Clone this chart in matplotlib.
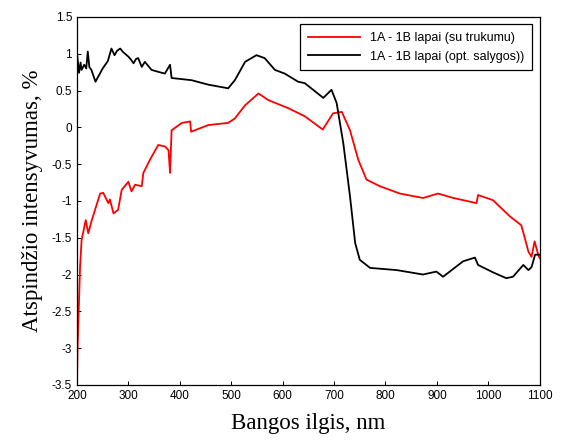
import matplotlib
matplotlib.use("Agg")
import matplotlib.pyplot as plt
from matplotlib.ticker import FuncFormatter

# Bangos ilgis (nm) ir atspindžio skirtumai, nuskaityti kreivėms
wl_red = [200, 201, 206, 209, 217, 222, 228, 245, 251, 261, 264, 271, 280, 287, 300, 306,
          313, 326, 329, 342, 358, 371, 378, 381, 384, 400, 404, 420, 422, 455, 494, 507,
          527, 553, 572, 611, 643, 678, 698, 715, 731, 747, 763, 789, 828, 873, 902, 932,
          977, 980, 1009, 1042, 1064, 1070, 1078, 1084, 1090, 1097, 1100]
val_red = [-3.48, -3.02, -1.89, -1.53, -1.26, -1.44, -1.28, -0.90, -0.89, -1.03, -0.98, -1.17,
           -1.12, -0.85, -0.74, -0.87, -0.78, -0.80, -0.62, -0.44, -0.24, -0.26, -0.31, -0.62,
           -0.04, 0.04, 0.06, 0.08, -0.06, 0.03, 0.06, 0.12, 0.30, 0.46, 0.37, 0.26, 0.15,
           -0.03, 0.19, 0.21, -0.04, -0.44, -0.71, -0.80, -0.90, -0.96, -0.90, -0.96, -1.03,
           -0.92, -0.99, -1.21, -1.33, -1.48, -1.69, -1.76, -1.55, -1.73, -1.78]

wl_black = [200, 204, 207, 209, 214, 218, 221, 224, 228, 236, 250, 260, 267, 273, 278, 284,
            290, 300, 305, 310, 315, 319, 326, 332, 345, 360, 371, 381, 384, 423, 455, 494,
            507, 527, 549, 565, 585, 604, 630, 643, 679, 695, 705, 718, 731, 741, 750, 770,
            822, 873, 899, 912, 951, 974, 980, 1009, 1035, 1048, 1068, 1078, 1084, 1091, 1100]
val_black = [1.01, 0.74, 0.88, 0.78, 0.85, 0.80, 1.03, 0.82, 0.78, 0.62, 0.80, 0.90, 1.07,
             0.98, 1.04, 1.07, 1.02, 0.96, 0.92, 0.87, 0.93, 0.94, 0.82, 0.89, 0.78, 0.75,
             0.73, 0.85, 0.67, 0.64, 0.58, 0.53, 0.64, 0.89, 0.98, 0.94, 0.78, 0.73, 0.62,
             0.60, 0.40, 0.51, 0.33, -0.22, -0.94, -1.57, -1.80, -1.91, -1.94, -2.00, -1.96,
             -2.03, -1.82, -1.77, -1.87, -1.97, -2.05, -2.03, -1.87, -1.94, -1.90, -1.73, -1.73]

label_red = "1A - 1B lapai (su trukumu)"
label_black = "1A - 1B lapai (opt. salygos))"

plt.rcParams["font.family"] = ["Liberation Sans", "DejaVu Sans"]

fig = plt.figure(figsize=(5.64, 4.45), dpi=100)
ax = fig.add_axes([0.1365, 0.135, 0.8205, 0.827])

ax.plot(wl_red, val_red, color="red", lw=1.3, label=label_red)
ax.plot(wl_black, val_black, color="black", lw=1.3, label=label_black)

ax.set_xlim(200, 1100)
ax.set_ylim(-3.5, 1.5)
ax.set_xticks(range(200, 1101, 100))
ax.set_yticks([1.5, 1, 0.5, 0, -0.5, -1, -1.5, -2, -2.5, -3, -3.5])
ax.yaxis.set_major_formatter(FuncFormatter(lambda v, p: f"{v:g}"))
ax.tick_params(direction="in", labelsize=8.5, length=3, width=0.7)
for s in ax.spines.values():
    s.set_linewidth(0.9)

ax.set_xlabel("Bangos ilgis, nm", fontfamily="Liberation Serif", fontsize=16.5, labelpad=8)
ax.set_ylabel("Atspindžio intensyvumas, %", fontfamily="Liberation Serif", fontsize=16.5,
              labelpad=6)

leg = ax.legend(loc="upper right", fontsize=9, fancybox=False, edgecolor="black",
                framealpha=1, borderaxespad=0.6, handlelength=4.2, borderpad=0.6,
                labelspacing=0.55)
leg.get_frame().set_linewidth(0.9)

plt.savefig("out.png", dpi=100)
